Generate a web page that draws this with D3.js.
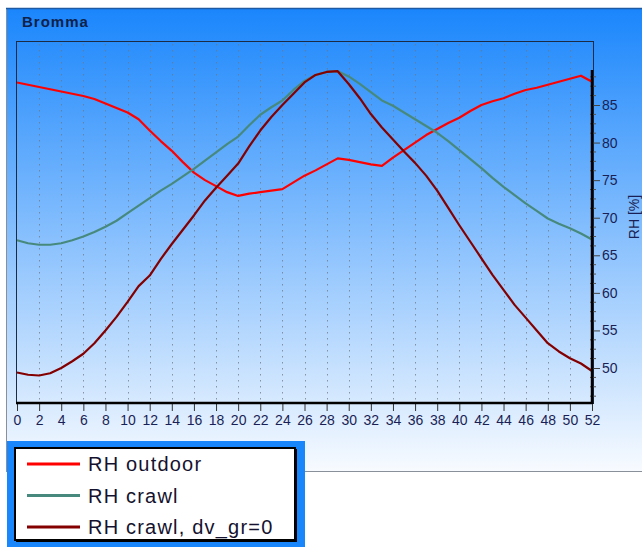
<!DOCTYPE html>
<html lang="en">
<head>
    <meta charset="UTF-8">
    <title>Bromma</title>
    <script src="https://d3js.org/d3.v7.min.js"></script>
    <style>
        body { margin: 0; background: #fff; }
        svg { display: block; font-family: "Liberation Sans", Arial, sans-serif; }
        .tick-label { fill: #1a1f55; font-size: 14px; }
    </style>
</head>
<body>
<script>
    const width = 642;
    const height = 547;

    // week numbers and relative humidity [%]
    const weeks = d3.range(0, 53);
    const rhOutdoor = [88.0, 87.7, 87.4, 87.1, 86.8, 86.5, 86.2, 85.8, 85.2, 84.6, 84.0, 83.1, 81.6, 80.2,
        78.9, 77.4, 76.0, 75.0, 74.2, 73.4, 72.9, 73.2, 73.4, 73.6, 73.8, 74.7, 75.6, 76.3, 77.1, 77.9,
        77.7, 77.4, 77.1, 76.9, 78.0, 79.0, 80.0, 81.0, 81.8, 82.6, 83.3, 84.2, 85.0, 85.5, 85.9, 86.5,
        87.0, 87.3, 87.7, 88.1, 88.5, 88.9, 88.1];
    const rhCrawl = [67.0, 66.6, 66.4, 66.4, 66.6, 67.0, 67.5, 68.1, 68.8, 69.6, 70.6, 71.6, 72.6, 73.6,
        74.5, 75.5, 76.5, 77.6, 78.7, 79.8, 80.8, 82.3, 83.7, 84.7, 85.6, 87.0, 88.2, 89.0, 89.4, 89.5,
        88.8, 87.8, 86.7, 85.6, 84.9, 84.0, 83.1, 82.2, 81.3, 80.2, 79.0, 77.8, 76.6, 75.3, 74.1, 73.0,
        71.9, 70.9, 69.9, 69.2, 68.6, 67.9, 67.1];
    const rhCrawlDv0 = [49.4, 49.1, 49.0, 49.3, 50.0, 50.9, 51.9, 53.3, 55.0, 56.8, 58.8, 60.9, 62.3, 64.5,
        66.5, 68.4, 70.3, 72.3, 74.0, 75.6, 77.2, 79.5, 81.6, 83.4, 85.0, 86.5, 88.0, 89.0, 89.4, 89.5,
        87.8, 85.9, 83.8, 82.0, 80.4, 78.8, 77.3, 75.6, 73.6, 71.3, 69.0, 66.8, 64.6, 62.4, 60.4, 58.4,
        56.7, 55.0, 53.3, 52.2, 51.3, 50.6, 49.6];

    const xTicks = d3.range(0, 53, 2);
    const yTicks = [50, 55, 60, 65, 70, 75, 80, 85];

    const series = [
        {name: "RH outdoor", values: rhOutdoor, color: "#ff0000"},
        {name: "RH crawl", values: rhCrawl, color: "#478a7d"},
        {name: "RH crawl, dv_gr=0", values: rhCrawlDv0, color: "#840000"}
    ];

    const plot = {left: 16, top: 41, right: 593, bottom: 403};

    const svg = d3.select("body").append("svg")
            .attr("width", width).attr("height", height);

    const defs = svg.append("defs");
    const grad = defs.append("linearGradient")
            .attr("id", "bg").attr("gradientUnits", "userSpaceOnUse")
            .attr("x1", 0).attr("y1", 8).attr("x2", 0).attr("y2", 472);
    grad.append("stop").attr("offset", 0).attr("stop-color", "#1a86fc");
    grad.append("stop").attr("offset", 1).attr("stop-color", "#f8fbff");

    // outer panel
    svg.append("rect")
            .attr("x", 6.5).attr("y", 8.5).attr("width", 640).attr("height", 463)
            .attr("fill", "url(#bg)").attr("stroke", "#8a9099");
    svg.append("line")
            .attr("x1", 6).attr("x2", 642).attr("y1", 8.5).attr("y2", 8.5)
            .attr("stroke", "#1d5aa3").attr("stroke-width", 1.5);

    svg.append("text")
            .attr("x", 22).attr("y", 27)
            .attr("font-size", 15).attr("font-weight", "bold")
            .attr("letter-spacing", 1)
            .attr("fill", "#10214a")
            .text("Bromma");

    const x = d3.scaleLinear().domain([0, 52]).range([17, 592]);
    const y = d3.scaleLinear().domain([50, 85]).range([368, 105]);

    // plot frame
    svg.append("rect")
            .attr("x", plot.left + 0.5).attr("y", plot.top + 0.5)
            .attr("width", plot.right - plot.left).attr("height", plot.bottom - plot.top)
            .attr("fill", "none").attr("stroke", "#1b2b44");

    // dotted vertical grid
    svg.append("g")
            .selectAll("line")
            .data(xTicks.filter(d => d > 0 && d < 52))
            .join("line")
            .attr("x1", d => Math.round(x(d)) + 0.5).attr("x2", d => Math.round(x(d)) + 0.5)
            .attr("y1", plot.top + 3).attr("y2", plot.bottom)
            .attr("stroke", "#6e7884").attr("stroke-opacity", 0.75)
            .attr("stroke-dasharray", "1.5,4.5");

    // series lines
    const line = d3.line()
            .x((d, i) => x(weeks[i]))
            .y(d => y(d));

    svg.append("g")
            .selectAll("path")
            .data(series)
            .join("path")
            .attr("fill", "none")
            .attr("stroke", d => d.color)
            .attr("stroke-width", 2.2)
            .attr("stroke-linejoin", "round")
            .attr("d", d => line(d.values));

    // x axis
    const xAxis = svg.append("g").attr("transform", `translate(0,${plot.bottom})`)
            .call(d3.axisBottom(x).tickValues(xTicks).tickSize(8).tickPadding(4).tickFormat(d3.format("d")));
    xAxis.select(".domain").remove();
    xAxis.selectAll(".tick line").attr("stroke", "#333");
    xAxis.selectAll(".tick text").attr("class", "tick-label").attr("font-family", null).attr("font-size", null);
    svg.append("line")
            .attr("x1", plot.left).attr("x2", 592)
            .attr("y1", plot.bottom).attr("y2", plot.bottom)
            .attr("stroke", "#000").attr("stroke-width", 2.5);

    // y axis (right)
    const yMinor = d3.range(45.0, 90, 1.25).filter(v => y(v) >= 70 && y(v) <= plot.bottom && !yTicks.includes(v));
    svg.append("g")
            .selectAll("line")
            .data(yMinor)
            .join("line")
            .attr("x1", 590).attr("x2", 596)
            .attr("y1", d => y(d)).attr("y2", d => y(d))
            .attr("stroke", "#555").attr("stroke-width", 1);

    const yAxis = svg.append("g").attr("transform", "translate(592,0)")
            .call(d3.axisRight(y).tickValues(yTicks).tickSize(8).tickPadding(2));
    yAxis.select(".domain").remove();
    yAxis.selectAll(".tick line").attr("stroke", "#444");
    yAxis.selectAll(".tick text").attr("class", "tick-label").attr("font-family", null).attr("font-size", null);
    svg.append("line")
            .attr("x1", 592).attr("x2", 592)
            .attr("y1", 70).attr("y2", plot.bottom + 1)
            .attr("stroke", "#000").attr("stroke-width", 2.5);

    svg.append("text")
            .attr("transform", "translate(639,217) rotate(-90)")
            .attr("text-anchor", "middle")
            .attr("font-size", 14)
            .attr("fill", "#1a1f55")
            .text("RH [%]");

    // legend
    const legend = svg.append("g");
    legend.append("rect")
            .attr("x", 7).attr("y", 441).attr("width", 298).attr("height", 106)
            .attr("fill", "#1a86fc");
    legend.append("rect")
            .attr("x", 15).attr("y", 448).attr("width", 280).attr("height", 92)
            .attr("fill", "#fff").attr("stroke", "#000").attr("stroke-width", 2);
    legend.append("path")
            .attr("d", "M296,449 V541 H16")
            .attr("fill", "none").attr("stroke", "#000").attr("stroke-width", 2);

    const items = legend.selectAll("g.item")
            .data(series)
            .join("g")
            .attr("class", "item")
            .attr("transform", (d, i) => `translate(0,${464 + i * 31.5})`);
    items.append("line")
            .attr("x1", 27).attr("x2", 80)
            .attr("stroke", d => d.color).attr("stroke-width", 3);
    items.append("text")
            .attr("x", 88).attr("y", 7)
            .attr("font-size", 20)
            .attr("letter-spacing", 1.2)
            .attr("fill", "#14122e")
            .text(d => d.name);
</script>
</body>
</html>
